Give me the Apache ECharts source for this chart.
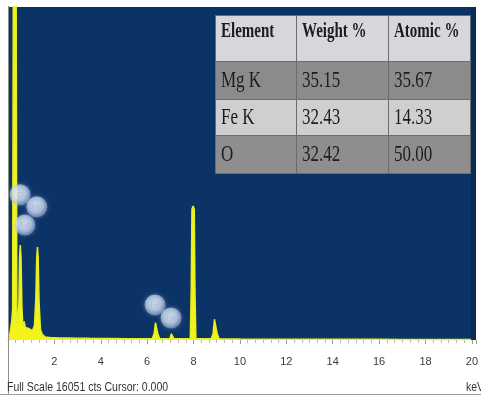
<!DOCTYPE html>
<html>
<head>
<meta charset="utf-8">
<script src="https://cdn.jsdelivr.net/npm/echarts@6/dist/echarts.min.js"></script>
<style>
  html, body { margin: 0; padding: 0; background: #ffffff; }
  #chart { width: 481px; height: 396px; }
</style>
</head>
<body>
<div id="chart"></div>
<script>
// EDS spectrum: energy (keV) and counts
const spectrumKeV = [
  0.00, 0.08, 0.16, 0.20, 0.23, 0.35, 0.38, 0.42, 0.47, 0.50, 0.53, 0.56, 0.60, 0.64,
  0.70, 0.74, 0.80, 0.88, 0.96, 1.05, 1.14, 1.20, 1.24, 1.27, 1.30, 1.34, 1.40, 1.48,
  1.60, 1.80, 2.20, 2.60, 3.00, 3.50, 4.00, 4.50, 5.00, 5.50, 6.00, 6.22, 6.30, 6.36,
  6.38, 6.40, 6.46, 6.54, 6.80, 6.98, 7.04, 7.07, 7.10, 7.16, 7.40, 7.70, 7.86, 7.90,
  7.93, 7.98, 8.03, 8.06, 8.10, 8.14, 8.40, 8.76, 8.84, 8.90, 8.93, 8.96, 9.02, 9.10,
  9.50, 10.0, 11.0, 12.0, 13.0, 14.0, 15.0, 16.0, 17.0, 18.0, 19.0, 20.0, 20.2
];
const spectrumCounts = [
  0, 300, 900, 1500, 18000, 18000, 1400, 800, 1800, 4000, 4580, 4000, 1600, 650,
  900, 620, 700, 560, 500, 450, 700, 2000, 4000, 4480, 4000, 1800, 500, 260,
  150, 120, 100, 95, 90, 80, 75, 70, 65, 60, 60, 70, 300, 840,
  870, 840, 300, 65, 60, 60, 300, 340, 300, 60, 60, 60, 70, 2500,
  6300, 6460, 6300, 2500, 70, 60, 55, 60, 300, 1000, 1060, 1000, 300, 60,
  50, 45, 40, 40, 38, 35, 35, 32, 30, 30, 28, 25, 25
];

// Peak identification markers
const markerNames = ['O', 'Fe', 'Mg', 'Fe', 'Fe'];
const markerKeV = [0.52, 0.73, 1.24, 6.34, 7.03];
const markerCounts = [7000, 5540, 6420, 1690, 1060];

// Quantification table
const tableHeader = ['Element', 'Weight %', 'Atomic %'];
const tableElements = ['Mg K', 'Fe K', 'O'];
const tableWeight = ['35.15', '32.43', '32.42'];
const tableAtomic = ['35.67', '14.33', '50.00'];

// Axis settings
const fullScale = 16051;
const energyMax = 20.17;
const tickStep = 2;
const statusText = 'Full Scale 16051 cts Cursor: 0.000';
const unitText = 'keV';

const chart = echarts.init(document.getElementById('chart'), null, { renderer: 'canvas' });

const spectrumData = spectrumKeV.map((k, i) => [k, spectrumCounts[i]]);
const markerData = markerKeV.map((k, i) => ({ name: markerNames[i], value: [k, markerCounts[i]] }));

// table geometry
const colX = [215, 296, 388, 470];
const rowY = [15, 61, 99, 135, 173];
const rowFill = ['#d6d7da', '#8b8b8b', '#cfcfcf', '#8e8e8e'];
const tableRows = [tableHeader].concat(tableElements.map((e, i) => [e, tableWeight[i], tableAtomic[i]]));

const tableGraphics = [];
for (let r = 0; r < tableRows.length; r++) {
  for (let c = 0; c < 3; c++) {
    tableGraphics.push({
      type: 'rect',
      shape: { x: colX[c] + 0.5, y: rowY[r] + 0.5, width: colX[c + 1] - colX[c], height: rowY[r + 1] - rowY[r] },
      style: { fill: rowFill[r], stroke: '#6c6c6c', lineWidth: 1 },
      z: 10
    });
    const isHead = r === 0;
    const ty = isHead ? 31.5 : (rowY[r] + rowY[r + 1]) / 2 + 1;
    tableGraphics.push({
      type: 'text',
      x: colX[c] + 6,
      y: ty,
      scaleY: isHead ? 1.45 : 1.35,
      style: {
        text: tableRows[r][c],
        font: (isHead ? 'bold 15px' : '17px') + ' "Liberation Serif", "DejaVu Serif", serif',
        fill: '#1c1c1c',
        textAlign: 'left',
        textVerticalAlign: 'middle',
        align: 'left',
        verticalAlign: 'middle'
      },
      z: 11
    });
  }
}

const option = {
  backgroundColor: '#ffffff',
  animation: false,
  grid: {
    left: 8, right: 5, top: 7, bottom: 56,
    show: true, backgroundColor: '#0b3366', borderWidth: 0
  },
  xAxis: {
    type: 'value',
    min: 0,
    max: energyMax,
    interval: tickStep,
    axisLine: { show: false },
    splitLine: { show: false },
    axisTick: { show: true, length: 4, lineStyle: { color: '#9a9a9a', width: 1 } },
    minorTick: { show: true, splitNumber: 6, length: 3, lineStyle: { color: '#b8b8b8', width: 1 } },
    axisLabel: {
      margin: 16,
      fontSize: 11,
      fontFamily: '"Liberation Sans", Arial, sans-serif',
      color: '#3c3c3c',
      formatter: v => (v > 0 && Math.abs(v % tickStep) < 1e-9) ? String(v) : ''
    }
  },
  yAxis: {
    type: 'value',
    min: 0,
    max: fullScale,
    show: false,
    splitLine: { show: false }
  },
  series: [
    {
      type: 'line',
      data: spectrumData,
      showSymbol: false,
      symbol: 'none',
      smooth: false,
      clip: true,
      lineStyle: { color: '#e4ee22', width: 1.5 },
      areaStyle: { color: '#f3f31a', opacity: 1 },
      z: 2
    },
    {
      type: 'scatter',
      data: markerData,
      symbol: 'circle',
      symbolSize: 21,
      itemStyle: {
        shadowBlur: 4,
        shadowColor: 'rgba(215,228,250,0.6)',
        color: {
          type: 'radial', x: 0.45, y: 0.42, r: 0.6,
          colorStops: [
            { offset: 0, color: 'rgba(240,245,252,0.95)' },
            { offset: 0.55, color: 'rgba(204,218,240,0.9)' },
            { offset: 1, color: 'rgba(150,176,216,0.6)' }
          ]
        }
      },
      label: {
        show: true,
        position: 'inside',
        formatter: p => p.name,
        color: '#a6b6d0',
        fontSize: 8,
        fontFamily: '"Liberation Sans", sans-serif'
      },
      z: 5
    }
  ],
  graphic: [
    // right edge of the plot panel
    { type: 'rect', shape: { x: 471, y: 7, width: 5, height: 333 }, style: { fill: '#082b58' }, z: 3 },
    // frame lines
    { type: 'line', shape: { x1: 8.5, y1: 6, x2: 8.5, y2: 394 }, style: { stroke: '#8c8c8c', lineWidth: 1 }, z: 4 },
    { type: 'line', shape: { x1: 0, y1: 394.5, x2: 481, y2: 394.5 }, style: { stroke: '#9e9e9e', lineWidth: 1 }, z: 4 },
    {
      type: 'text', x: 7, y: 387, scaleY: 1.25,
      style: {
        text: statusText, font: '10.5px "Liberation Sans", Arial, sans-serif', fill: '#333333',
        textAlign: 'left', textVerticalAlign: 'middle', align: 'left', verticalAlign: 'middle'
      },
      z: 4
    },
    {
      type: 'text', x: 466, y: 387, scaleY: 1.25,
      style: {
        text: unitText, font: '10.5px "Liberation Sans", Arial, sans-serif', fill: '#333333',
        textAlign: 'left', textVerticalAlign: 'middle', align: 'left', verticalAlign: 'middle'
      },
      z: 4
    }
  ].concat(tableGraphics)
};

chart.setOption(option);
</script>
</body>
</html>
